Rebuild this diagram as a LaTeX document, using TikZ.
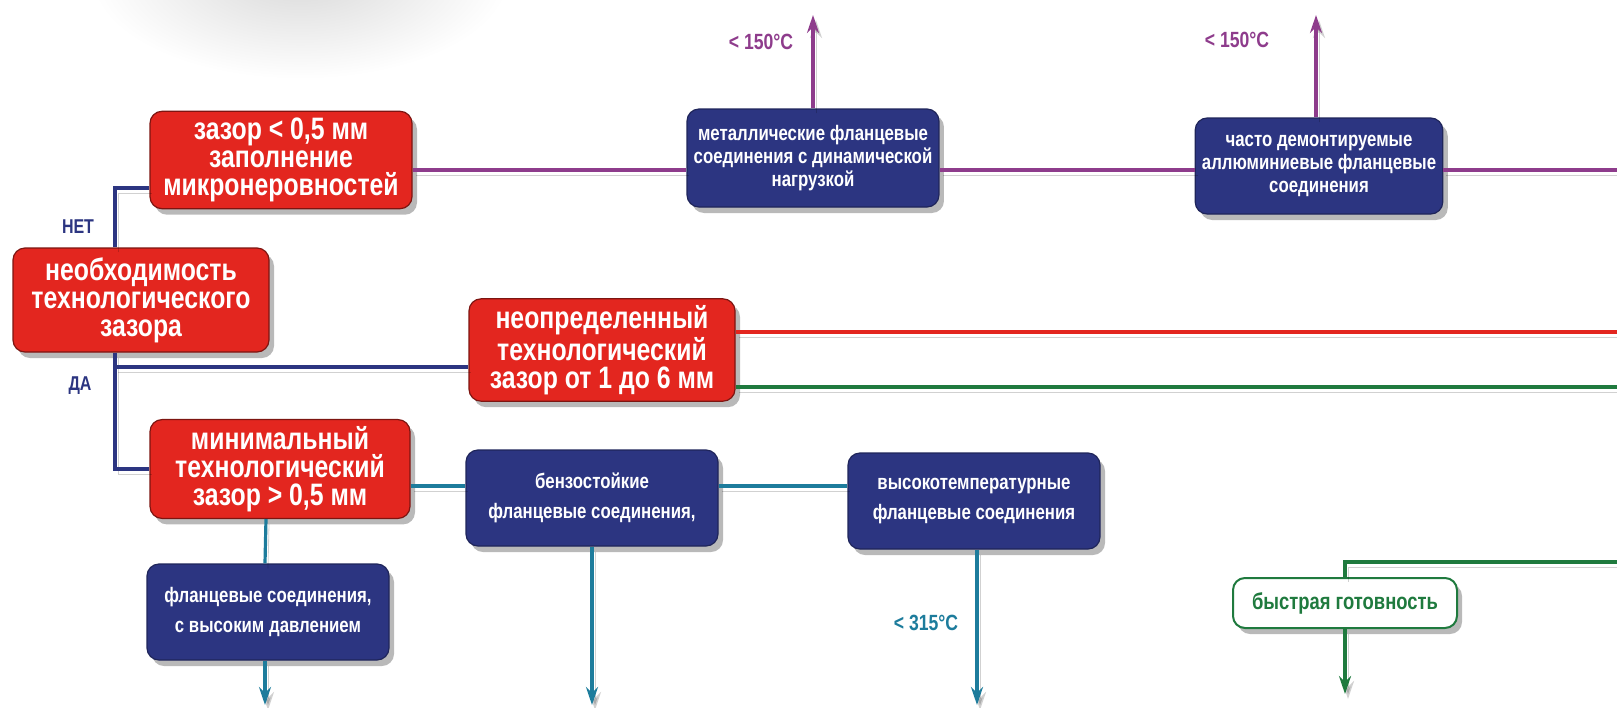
\documentclass[tikz,border=0pt]{standalone}
\usepackage{fontspec}
\setmainfont{Liberation Sans}
\newfontfamily\condfont{Liberation Sans}[FakeStretch=0.8]
\usetikzlibrary{shadows,arrows.meta}

\definecolor{gapred}{HTML}{E3261F}
\definecolor{gapnavy}{HTML}{2C3581}
\definecolor{gappurple}{HTML}{8E3C8C}
\definecolor{gapteal}{HTML}{1D7C9C}
\definecolor{gapgreen}{HTML}{1F7A3E}

\tikzset{
  boxshadow/.style={drop shadow={shadow xshift=2.5pt,shadow yshift=-3pt,opacity=0.55}},
  lineshadow/.style={preaction={draw=black,opacity=0.18,transform canvas={shift={(1.5pt,-2.5pt)}}}},
  redbox/.style={draw=gapred!55!black,line width=0.6pt,fill=gapred,rounded corners=6pt,
    text=white,align=center,boxshadow,
    font=\condfont\bfseries\fontsize{15.5}{14}\selectfont},
  bluebox/.style={draw=gapnavy!70!black,line width=0.6pt,fill=gapnavy,rounded corners=6pt,
    text=white,align=center,boxshadow,
    font=\condfont\bfseries\fontsize{10.5}{11.7}\selectfont},
  greenbox/.style={draw=gapgreen,line width=1pt,fill=white,rounded corners=6pt,
    text=gapgreen,align=center,boxshadow,
    font=\condfont\bfseries\fontsize{11.5}{12}\selectfont},
  navyline/.style={draw=gapnavy,line width=2pt,lineshadow},
  purpleline/.style={draw=gappurple,line width=1.6pt,lineshadow,>={Stealth[length=9pt,width=6pt]}},
  tealline/.style={draw=gapteal,line width=1.6pt,lineshadow,>={Stealth[length=9pt,width=6pt]}},
  greenline/.style={draw=gapgreen,line width=1.6pt,lineshadow,>={Stealth[length=9pt,width=6pt]}},
  redline/.style={draw=gapred,line width=1.6pt,lineshadow},
  templabel/.style={font=\condfont\bfseries\fontsize{11}{12}\selectfont},
}

\begin{document}
\begin{tikzpicture}[x=0.5pt,y=-0.5pt]
\useasboundingbox (0,0) rectangle (1617,707);
\shade [inner color=gray!30,outer color=white] (300,-25) ellipse [x radius=105pt,y radius=52pt];

% red decision boxes
\node [redbox,minimum width=128pt,minimum height=52pt]   (need)     at ( 141,300) {необходимость\\ технологического\\ зазора};
\node [redbox,minimum width=131pt,minimum height=43pt]   (gapsmall) at ( 281,160) {зазор < 0,5 мм\\ заполнение\\ микронеровностей};
\node [redbox,minimum width=133pt,minimum height=48.5pt] (gapvar)   at ( 602,350) {неопределенный\\ технологический\\ зазор от 1 до 6 мм};
\node [redbox,minimum width=130pt,minimum height=49pt]   (gapmin)   at ( 280,469) {минимальный\\ технологический\\ зазор > 0,5 мм};

% blue application boxes
\node [bluebox,minimum width=122pt,minimum height=49pt]  (metal) at ( 813,158) {металлические фланцевые\\ соединения с динамической\\ нагрузкой};
\node [bluebox,minimum width=115pt,minimum height=48pt]  (alu)   at (1319,166) {часто демонтируемые\\ аллюминиевые фланцевые\\ соединения};
\node [bluebox,minimum width=126pt,minimum height=48pt]  (fuel)  at ( 592,498) {бензостойкие\\[3pt] фланцевые соединения,};
\node [bluebox,minimum width=126pt,minimum height=48pt]  (hot)   at ( 974,501) {высокотемпературные\\[3pt] фланцевые соединения};
\node [bluebox,minimum width=121pt,minimum height=48pt]  (press) at ( 268,612) {фланцевые соединения,\\[3pt] с высоким давлением};
\node [greenbox,minimum width=112pt,minimum height=25pt] (ready) at (1345,603) {быстрая готовность};

% free ends and bends
\coordinate (trunk)   at ( 115,188);
\coordinate (yes)     at ( 115,367);
\coordinate (purp)    at (1617,170);
\coordinate (redend)  at (1617,332);
\coordinate (grnend)  at (1617,387);
\coordinate (tealrow) at (   0,486);
\coordinate (grnin)   at (1617,562);
\coordinate (bottom)  at (   0,705);
\coordinate (top)     at (   0, 15);

\draw [navyline] (need.north -| trunk) |- (gapsmall.west |- trunk);
\draw [navyline] (need.south -| trunk) |- (gapmin.west);
\draw [navyline] (yes) -- (gapvar.west |- yes);
\node [text=gapnavy,font=\condfont\bfseries\fontsize{10}{11}\selectfont] (no)  at (78,227) {НЕТ};
\node [text=gapnavy,font=\condfont\bfseries\fontsize{10}{11}\selectfont] (da)  at (80,386) {ДА};

\draw [purpleline] (gapsmall.east |- purp) -- (metal.west |- purp);
\draw [purpleline] (metal.east |- purp) -- (alu.west |- purp);
\draw [purpleline] (alu.east |- purp) -- (purp);
\draw [purpleline,->] (metal.north) -- (metal.north |- top);
\draw [purpleline,->] ([xshift=-1.5pt]alu.north) -- ([xshift=-1.5pt]alu.north |- top);
\node [templabel,text=gappurple] (t150a) at ( 761,42) {< 150°C};
\node [templabel,text=gappurple] (t150b) at (1237,40) {< 150°C};

\draw [redline]   (gapvar.east |- redend) -- (redend);
\draw [greenline] (gapvar.east |- grnend) -- (grnend);

\draw [tealline] (gapmin.east |- tealrow) -- (fuel.west |- tealrow);
\draw [tealline] (fuel.east |- tealrow) -- (hot.west |- tealrow);
\draw [tealline] ([xshift=-7pt]gapmin.south) -- ([xshift=-1.5pt]press.north);
\draw [tealline,->] ([xshift=-1.5pt]press.south) -- ([xshift=-1.5pt]press.south |- bottom);
\draw [tealline,->] (fuel.south) -- (fuel.south |- bottom);
\draw [tealline,->] ([xshift=1.5pt]hot.south) -- ([xshift=1.5pt]hot.south |- bottom);
\node [templabel,text=gapteal] (t315) at (926,623) {< 315°C};

\draw [greenline] (grnin) -| (ready.north);
\draw [greenline,->] (ready.south) -- ++(0,65);
\end{tikzpicture}
\end{document}
